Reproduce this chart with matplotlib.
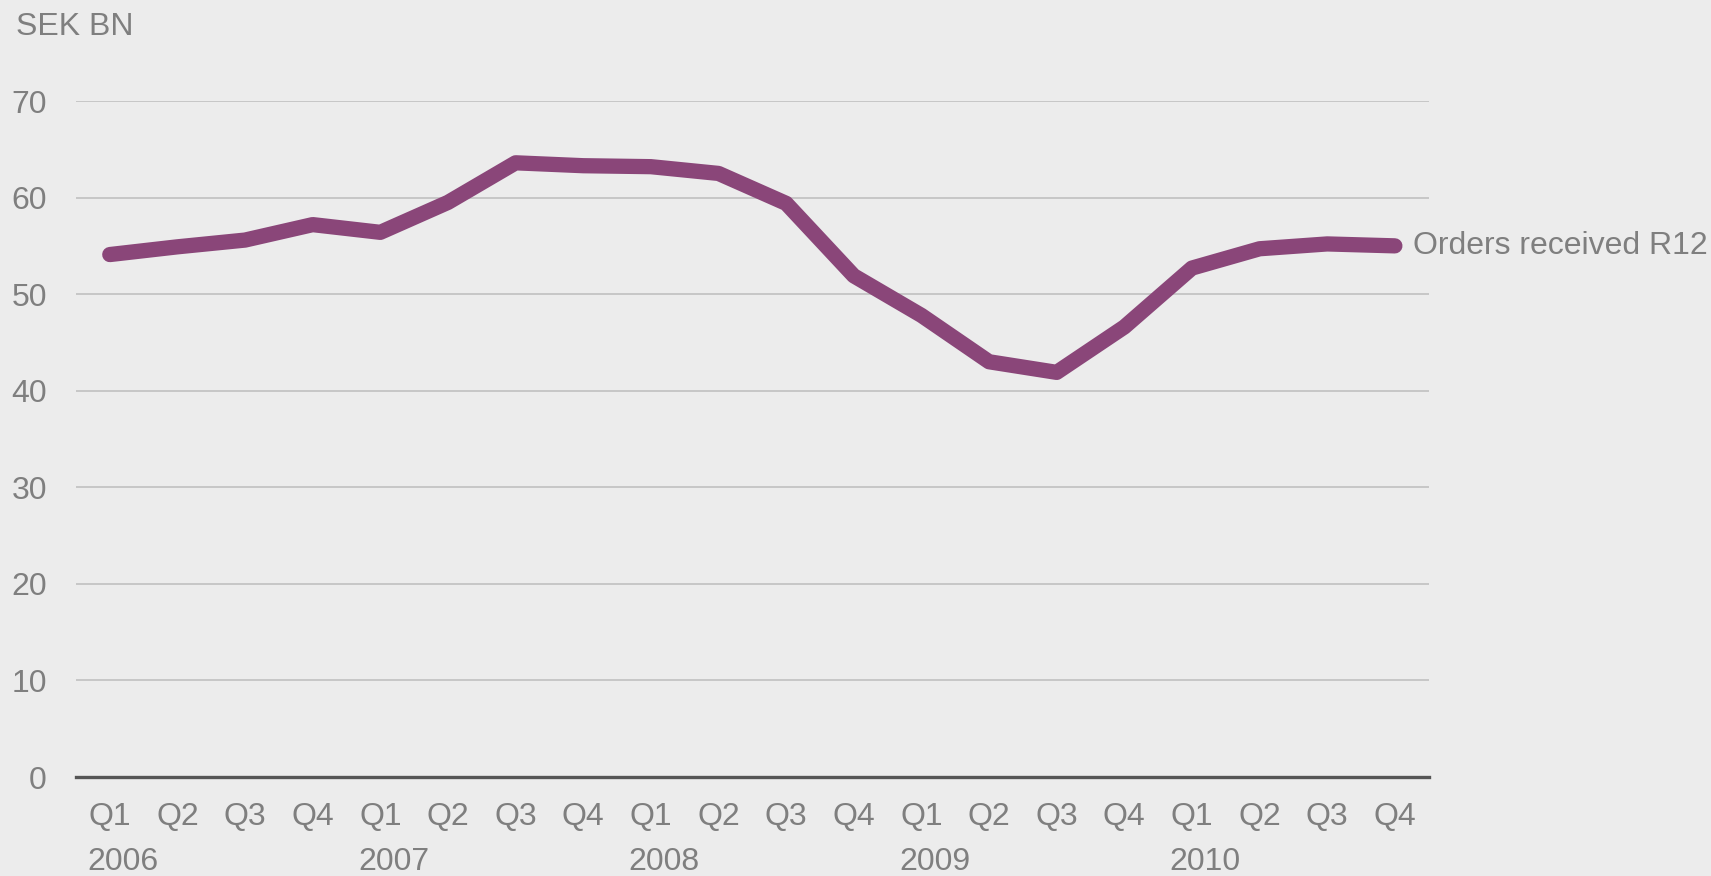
import matplotlib.pyplot as plt

# Orders received, rolling 12 months (SEK BN)
quarters = ["Q1", "Q2", "Q3", "Q4"] * 5
years = ["2006", "2007", "2008", "2009", "2010"]
orders = [54.1, 54.9, 55.6, 57.2, 56.4, 59.5, 63.6, 63.3, 63.2, 62.5,
          59.4, 51.9, 47.8, 43.0, 41.9, 46.6, 52.7, 54.7, 55.2, 55.0]
series_label = "Orders received R12"

bg = "#ececec"
grey = "#7f7f7f"
purple = "#8a4679"
fs = 23

plt.rcParams["font.family"] = ["Liberation Sans", "DejaVu Sans"]

fig = plt.figure(figsize=(17.11, 8.76), dpi=100, facecolor=bg)
ax = fig.add_axes([0.0444, 0.113, 0.7906, 0.7717])
ax.set_facecolor(bg)

x = list(range(len(orders)))
ax.plot(x, orders, color=purple, lw=11, solid_capstyle="round",
        solid_joinstyle="round", clip_on=False, zorder=3)

ax.set_xlim(-0.5, len(orders) - 0.5)
ax.set_ylim(0, 70)
ax.set_yticks(range(0, 71, 10))
ax.grid(axis="y", color="#c6c6c6", lw=1.4)
ax.axhline(0, color="#555555", lw=2.4, zorder=2, clip_on=False)
for s in ax.spines.values():
    s.set_visible(False)

ax.set_xticks(x)
ax.set_xticklabels(quarters)
ax.tick_params(length=0, labelsize=fs, labelcolor=grey)
ax.tick_params(axis="x", pad=18)
ax.tick_params(axis="y", pad=21)

# year labels under each Q1
for i, yr in enumerate(years):
    ax.annotate(yr, xy=(i * 4, 0), xycoords=("data", "axes fraction"),
                xytext=(-16, -61), textcoords="offset points",
                ha="left", va="center", fontsize=fs, color=grey)

ax.annotate(series_label, xy=(x[-1], orders[-1]), xytext=(13, 0),
            textcoords="offset points", ha="left", va="center",
            fontsize=fs, color=grey, annotation_clip=False)

fig.text(0.0094, 0.969, "SEK BN", ha="left", va="center", fontsize=fs, color=grey)

fig.savefig("out.png", dpi=100, facecolor=bg)
